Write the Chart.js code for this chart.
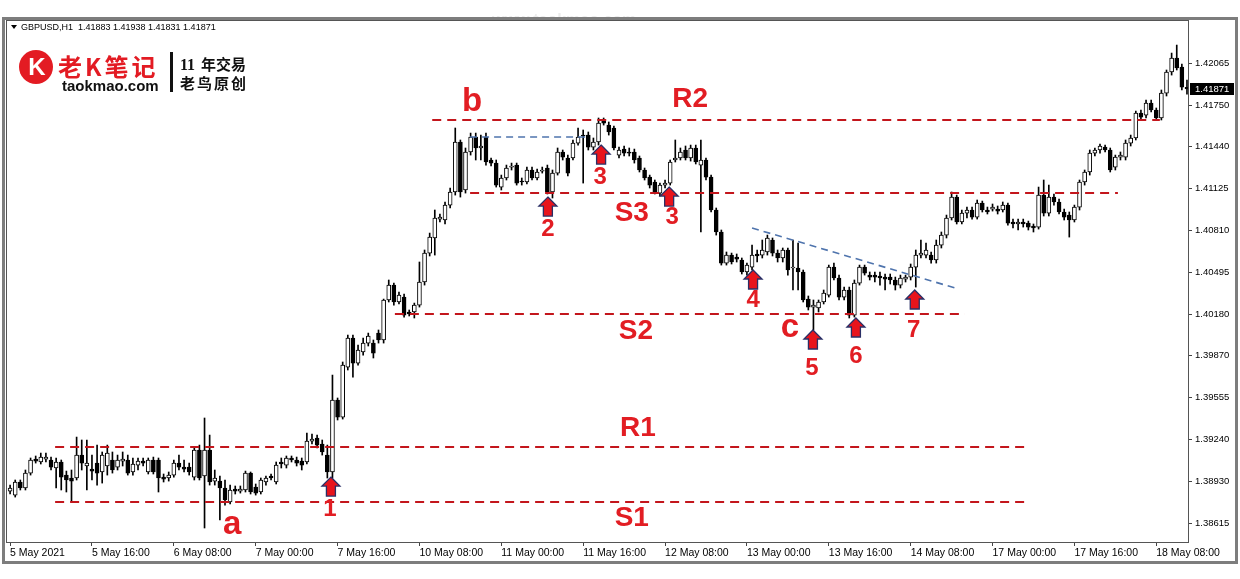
<!DOCTYPE html>
<html>
<head>
<meta charset="utf-8">
<script src="https://cdn.jsdelivr.net/npm/chart.js@4.4.1/dist/chart.umd.min.js"></script>
<style>
  html, body { margin: 0; padding: 0; background: #fff; }
  #wrap { width: 1240px; height: 579px; }
</style>
</head>
<body>
<div id="wrap"><canvas id="chart" width="1240" height="579"></canvas></div>
<script>
// GBPUSD H1, 5 May - 18 May 2021
const opens = [
  1.38855,1.38825,1.38923,1.38878,1.38990,1.39095,1.39073,1.39095,1.39088,1.39028,
  1.39073,1.38975,1.38953,1.38953,1.39125,1.39043,1.39020,1.39065,1.38998,1.39043,
  1.39088,1.39035,1.39080,1.39088,1.38998,1.39050,1.39080,1.38998,1.39088,1.39088,
  1.38960,1.38953,1.38975,1.39065,1.39035,1.39035,1.38960,1.39163,1.38968,1.39163,
  1.38930,1.38930,1.38878,1.38773,1.38870,1.38855,1.38863,1.38990,1.38885,1.38848,
  1.38923,1.38968,1.38923,1.39073,1.39050,1.39103,1.39088,1.39080,1.39073,1.39230,
  1.39253,1.39208,1.39125,1.38998,1.39538,1.39410,1.39785,1.40003,1.39815,1.39898,
  1.39965,1.39965,1.40040,1.39988,1.40288,1.40400,1.40273,1.40310,1.40198,1.40198,
  1.40250,1.40423,1.40640,1.40753,1.40895,1.40888,1.41000,1.41098,1.41473,1.41113,
  1.41398,1.41510,1.41428,1.41510,1.41338,1.41315,1.41135,1.41203,1.41285,1.41300,
  1.41180,1.41173,1.41263,1.41203,1.41255,1.41278,1.41098,1.41240,1.41398,1.41353,
  1.41353,1.41465,1.41525,1.41525,1.41435,1.41473,1.41638,1.41600,1.41578,1.41375,
  1.41420,1.41398,1.41398,1.41353,1.41263,1.41210,1.41173,1.41090,1.41150,1.41165,
  1.41338,1.41353,1.41413,1.41353,1.41428,1.41300,1.41338,1.41210,1.40963,1.40798,
  1.40565,1.40625,1.40610,1.40588,1.40498,1.40535,1.40633,1.40625,1.40648,1.40738,
  1.40640,1.40603,1.40663,1.40528,1.40528,1.40498,1.40295,1.40235,1.40228,1.40273,
  1.40325,1.40535,1.40453,1.40310,1.40363,1.40175,1.40415,1.40535,1.40475,1.40475,
  1.40468,1.40460,1.40460,1.40438,1.40400,1.40445,1.40460,1.40535,1.40625,1.40625,
  1.40625,1.40588,1.40700,1.40775,1.40903,1.41060,1.40873,1.40940,1.40963,1.40910,
  1.41015,1.40963,1.40970,1.40970,1.40963,1.41000,1.40873,1.40858,1.40873,1.40865,
  1.40843,1.40835,1.41075,1.40940,1.41060,1.41023,1.40948,1.40925,1.40888,1.40985,
  1.41173,1.41248,1.41390,1.41413,1.41435,1.41413,1.41285,1.41360,1.41360,1.41465,
  1.41503,1.41690,1.41675,1.41765,1.41713,1.41653,1.41840,1.41998,1.42103,1.42035,
  1.41883
];
const highs = [
  1.38900,1.38938,1.38938,1.39013,1.39103,1.39118,1.39140,1.39140,1.39110,1.39103,
  1.39088,1.39005,1.39013,1.39260,1.39238,1.39238,1.39125,1.39200,1.39148,1.39200,
  1.39148,1.39125,1.39148,1.39125,1.39103,1.39103,1.39103,1.39103,1.39110,1.39103,
  1.38983,1.38998,1.39088,1.39125,1.39088,1.39065,1.39178,1.39200,1.39403,1.39275,
  1.39013,1.38968,1.38938,1.38900,1.38893,1.38893,1.39005,1.38998,1.38908,1.38953,
  1.38968,1.38983,1.39073,1.39103,1.39118,1.39118,1.39110,1.39103,1.39290,1.39283,
  1.39275,1.39238,1.39200,1.39725,1.39553,1.39823,1.40025,1.40025,1.39950,1.40003,
  1.40040,1.39988,1.40063,1.40295,1.40438,1.40415,1.40348,1.40333,1.40213,1.40265,
  1.40573,1.40663,1.40790,1.40963,1.40933,1.41023,1.41128,1.41578,1.41488,1.41428,
  1.41540,1.41540,1.41525,1.41540,1.41353,1.41338,1.41225,1.41300,1.41315,1.41315,
  1.41203,1.41285,1.41285,1.41270,1.41285,1.41300,1.41263,1.41428,1.41413,1.41375,
  1.41488,1.41578,1.41563,1.41548,1.41503,1.41653,1.41653,1.41623,1.41593,1.41435,
  1.41443,1.41428,1.41420,1.41368,1.41278,1.41225,1.41188,1.41165,1.41188,1.41338,
  1.41488,1.41428,1.41443,1.41450,1.41450,1.41488,1.41353,1.41225,1.40978,1.40813,
  1.40648,1.40640,1.40633,1.40603,1.40565,1.40700,1.40663,1.40738,1.40775,1.40753,
  1.40663,1.40678,1.40678,1.40738,1.40715,1.40513,1.40318,1.40288,1.40288,1.40363,
  1.40550,1.40565,1.40475,1.40385,1.40385,1.40438,1.40550,1.40550,1.40498,1.40498,
  1.40498,1.40483,1.40483,1.40460,1.40475,1.40475,1.40558,1.40663,1.40738,1.40715,
  1.40648,1.40738,1.40798,1.40925,1.41098,1.41075,1.40963,1.40985,1.40985,1.41038,
  1.41030,1.40985,1.41008,1.40993,1.41023,1.41015,1.40895,1.40895,1.40895,1.40880,
  1.40858,1.41135,1.41188,1.41150,1.41083,1.41045,1.40970,1.40948,1.41000,1.41188,
  1.41263,1.41413,1.41428,1.41458,1.41450,1.41428,1.41375,1.41398,1.41488,1.41525,
  1.41705,1.41713,1.41788,1.41788,1.41728,1.41863,1.42013,1.42140,1.42200,1.42058,
  1.41938
];
const lows = [
  1.38833,1.38810,1.38863,1.38863,1.38975,1.39065,1.39058,1.39073,1.39013,1.38878,
  1.38863,1.38848,1.38773,1.38938,1.39013,1.38863,1.38938,1.38900,1.38915,1.38975,
  1.38990,1.39013,1.39043,1.38975,1.38975,1.39013,1.39043,1.38983,1.38983,1.38848,
  1.38923,1.38930,1.38960,1.39013,1.38998,1.38975,1.38938,1.38938,1.38578,1.38900,
  1.38900,1.38638,1.38750,1.38758,1.38833,1.38840,1.38848,1.38833,1.38825,1.38833,
  1.38900,1.38938,1.38908,1.39028,1.39028,1.39073,1.39043,1.39013,1.39058,1.39208,
  1.39178,1.39125,1.38953,1.38953,1.39388,1.39395,1.39763,1.39710,1.39800,1.39875,
  1.39943,1.39853,1.39965,1.39965,1.40273,1.40250,1.40258,1.40160,1.40168,1.40153,
  1.40235,1.40400,1.40618,1.40625,1.40873,1.40858,1.40978,1.41075,1.41060,1.41090,
  1.41375,1.41338,1.41338,1.41300,1.41293,1.41135,1.41113,1.41188,1.41263,1.41150,
  1.41150,1.41158,1.41188,1.41188,1.41240,1.41083,1.41053,1.41225,1.41338,1.41218,
  1.41338,1.41450,1.41165,1.41413,1.41413,1.41450,1.41600,1.41525,1.41413,1.41353,
  1.41368,1.41368,1.41315,1.41248,1.41188,1.41128,1.41083,1.41068,1.41128,1.41150,
  1.41323,1.41338,1.41338,1.41330,1.41308,1.40798,1.41188,1.40948,1.40775,1.40550,
  1.40550,1.40558,1.40573,1.40483,1.40475,1.40513,1.40573,1.40603,1.40625,1.40618,
  1.40573,1.40573,1.40475,1.40363,1.40363,1.40273,1.40213,1.40063,1.40198,1.40258,
  1.40310,1.40438,1.40288,1.40288,1.40153,1.40160,1.40400,1.40475,1.40438,1.40423,
  1.40400,1.40363,1.40408,1.40363,1.40378,1.40423,1.40438,1.40385,1.40603,1.40603,
  1.40565,1.40565,1.40678,1.40753,1.40888,1.40858,1.40858,1.40903,1.40895,1.40895,
  1.40948,1.40933,1.40955,1.40933,1.40948,1.40850,1.40828,1.40813,1.40835,1.40813,
  1.40798,1.40820,1.40918,1.40918,1.41000,1.40933,1.40888,1.40760,1.40873,1.40963,
  1.41150,1.41225,1.41368,1.41390,1.41398,1.41248,1.41263,1.41338,1.41338,1.41443,
  1.41488,1.41638,1.41653,1.41698,1.41638,1.41638,1.41818,1.41975,1.42013,1.41863,
  1.41831
];
const closes = [
  1.38878,1.38923,1.38878,1.38990,1.39088,1.39080,1.39110,1.39110,1.39035,1.39073,
  1.38960,1.38938,1.38930,1.39125,1.39065,1.39065,1.39005,1.38990,1.39125,1.39140,
  1.39013,1.39088,1.39095,1.38990,1.39058,1.39080,1.39065,1.39088,1.38998,1.38953,
  1.38945,1.38975,1.39065,1.39035,1.39020,1.38998,1.39163,1.38953,1.39163,1.38923,
  1.38953,1.38878,1.38788,1.38863,1.38855,1.38870,1.38990,1.38848,1.38840,1.38938,
  1.38953,1.38953,1.39050,1.39058,1.39103,1.39088,1.39065,1.39050,1.39230,1.39245,
  1.39200,1.39148,1.38998,1.39538,1.39410,1.39800,1.40003,1.39815,1.39913,1.39965,
  1.40018,1.39890,1.39988,1.40288,1.40400,1.40273,1.40325,1.40175,1.40183,1.40250,
  1.40423,1.40640,1.40760,1.40903,1.40910,1.41000,1.41098,1.41473,1.41098,1.41398,
  1.41510,1.41428,1.41443,1.41323,1.41315,1.41150,1.41203,1.41278,1.41293,1.41165,
  1.41173,1.41263,1.41203,1.41248,1.41263,1.41098,1.41240,1.41398,1.41360,1.41240,
  1.41465,1.41510,1.41518,1.41435,1.41473,1.41615,1.41615,1.41548,1.41428,1.41413,
  1.41390,1.41390,1.41338,1.41263,1.41203,1.41150,1.41098,1.41150,1.41165,1.41323,
  1.41353,1.41398,1.41353,1.41428,1.41323,1.41338,1.41210,1.40963,1.40798,1.40565,
  1.40625,1.40573,1.40595,1.40498,1.40550,1.40625,1.40618,1.40663,1.40753,1.40640,
  1.40603,1.40663,1.40513,1.40535,1.40498,1.40288,1.40235,1.40250,1.40273,1.40340,
  1.40535,1.40453,1.40310,1.40363,1.40175,1.40415,1.40535,1.40490,1.40460,1.40460,
  1.40453,1.40445,1.40438,1.40400,1.40453,1.40460,1.40535,1.40625,1.40640,1.40663,
  1.40588,1.40700,1.40775,1.40903,1.41060,1.40873,1.40940,1.40963,1.40910,1.41015,
  1.40963,1.40948,1.40985,1.40955,1.41000,1.40865,1.40858,1.40873,1.40858,1.40835,
  1.40828,1.41075,1.40940,1.41060,1.41023,1.40948,1.40910,1.40888,1.40985,1.41173,
  1.41248,1.41390,1.41413,1.41443,1.41413,1.41263,1.41360,1.41375,1.41465,1.41503,
  1.41690,1.41660,1.41765,1.41713,1.41653,1.41840,1.41998,1.42103,1.42028,1.41885,
  1.41871
];

// time axis: one label every 16 bars
const xTickBars = [0, 16, 32, 48, 64, 80, 96, 112, 128, 144, 160, 176, 192, 208, 224];
const xTickLabels = ['5 May 2021', '5 May 16:00', '6 May 08:00', '7 May 00:00', '7 May 16:00',
  '10 May 08:00', '11 May 00:00', '11 May 16:00', '12 May 08:00', '13 May 00:00',
  '13 May 16:00', '14 May 08:00', '17 May 00:00', '17 May 16:00', '18 May 08:00'];
const yTickValues = [1.38615, 1.38930, 1.39240, 1.39555, 1.39870, 1.40180,
  1.40495, 1.40810, 1.41125, 1.41440, 1.41750, 1.42065];
const priceMin = 1.38473;
const priceMax = 1.42388;
const lastPrice = 1.41871;

// support / resistance levels: R2, S3, S2, R1, S1
const levelPrices = [1.41638, 1.41090, 1.40183, 1.39185, 1.38773];
const levelFrom = [82.5, 89.9, 75.2, 8.8, 8.8];
const levelTo = [224.7, 216.5, 186.6, 198.7, 198.7];

// blue dashed lines: [fromBar, fromPrice, toBar, toPrice]
const blueLines = [
  [89.9, 1.41510, 113.3, 1.41510],
  [145.0, 1.40828, 184.7, 1.40378]
];

// red text marks
const noteTexts = ['b', 'R2', 'S3', 'S2', 'R1', 'S1', 'a', 'c', '1', '2', '3', '3', '4', '5', '6', '7'];
const noteBars = [90.3, 132.9, 121.5, 122.3, 122.7, 121.5, 43.4, 152.4, 62.5, 105.1, 115.3, 129.4, 145.2, 156.7, 165.3, 176.6];
const notePrices = [1.41773, 1.41795, 1.40940, 1.40055, 1.39328, 1.38653, 1.38600, 1.40078,
  1.38720, 1.40820, 1.41210, 1.40910, 1.40288, 1.39778, 1.39868, 1.40063];

// up arrows (tip position)
const arrowBars = [62.7, 105.1, 115.5, 128.8, 145.2, 156.9, 165.3, 176.8];
const arrowPrices = [1.38960, 1.41060, 1.41450, 1.41135, 1.40513, 1.40063, 1.40153, 1.40363];

const RED = '#e21d23';

function drawArrow(c, cx, ty) {
  c.beginPath();
  c.moveTo(cx, ty);
  c.lineTo(cx + 9, ty + 9);
  c.lineTo(cx + 4.5, ty + 9);
  c.lineTo(cx + 4.5, ty + 19);
  c.lineTo(cx - 4.5, ty + 19);
  c.lineTo(cx - 4.5, ty + 9);
  c.lineTo(cx - 9, ty + 9);
  c.closePath();
  c.fillStyle = '#e8141c';
  c.fill();
  c.strokeStyle = '#2a2f66';
  c.lineWidth = 1.3;
  c.stroke();
}

const overlay = {
  id: 'overlay',
  beforeDraw(chart) {
    const c = chart.ctx;
    c.save();
    c.fillStyle = '#fff';
    c.fillRect(0, 0, chart.width, chart.height);
    // site watermark, mostly hidden behind the frame
    c.beginPath();
    c.rect(0, 0, chart.width, 17);
    c.clip();
    c.fillStyle = '#ececec';
    c.font = 'bold 16px "Liberation Sans"';
    c.fillText('www.taokmao.com', 492, 25);
    c.restore();
  },
  afterDatasetsDraw(chart) {
    const { ctx: c, chartArea: a, scales: { x, y } } = chart;
    c.save();
    c.beginPath();
    c.rect(a.left, a.top, a.right - a.left, a.bottom - a.top);
    c.clip();

    c.strokeStyle = '#c3161c';
    c.lineWidth = 2;
    c.setLineDash([9, 6]);
    levelPrices.forEach((p, i) => {
      const py = Math.round(y.getPixelForValue(p));
      c.beginPath();
      c.moveTo(x.getPixelForValue(levelFrom[i]), py);
      c.lineTo(x.getPixelForValue(levelTo[i]), py);
      c.stroke();
    });

    c.strokeStyle = '#4f74ad';
    c.lineWidth = 1.6;
    c.setLineDash([7, 5]);
    blueLines.forEach(l => {
      c.beginPath();
      c.moveTo(x.getPixelForValue(l[0]), y.getPixelForValue(l[1]));
      c.lineTo(x.getPixelForValue(l[2]), y.getPixelForValue(l[3]));
      c.stroke();
    });
    c.setLineDash([]);

    arrowBars.forEach((b, i) => drawArrow(c, x.getPixelForValue(b), y.getPixelForValue(arrowPrices[i])));

    c.fillStyle = RED;
    c.textAlign = 'center';
    c.textBaseline = 'middle';
    noteTexts.forEach((t, i) => {
      let size = 24;
      if (/^[abc]$/.test(t)) size = 33;
      else if (/^[RS]/.test(t)) size = 28;
      c.font = 'bold ' + size + 'px "Liberation Sans", Arial, sans-serif';
      c.fillText(t, x.getPixelForValue(noteBars[i]), y.getPixelForValue(notePrices[i]));
    });
    c.restore();
  },
  afterDraw(chart) {
    const { ctx: c, chartArea: a, scales: { y } } = chart;
    c.save();
    // plot border and outer frame
    c.strokeStyle = '#555';
    c.lineWidth = 1;
    c.strokeRect(a.left + 0.5, a.top + 0.5, a.right - a.left, a.bottom - a.top);
    c.strokeStyle = '#7d7d7d';
    c.lineWidth = 3;
    c.strokeRect(3.5, 18.5, 1233, 544);

    // symbol header
    c.fillStyle = '#000';
    c.beginPath();
    c.moveTo(11, 25); c.lineTo(17, 25); c.lineTo(14, 29); c.closePath();
    c.fill();
    c.font = '9px "Liberation Sans", Arial, sans-serif';
    c.textBaseline = 'middle';
    c.fillText('GBPUSD,H1  1.41883 1.41938 1.41831 1.41871', 21, 27.5);

    // logo block
    c.fillStyle = '#e31b23';
    c.beginPath();
    c.arc(36, 67, 17, 0, Math.PI * 2);
    c.fill();
    c.fillStyle = '#fff';
    c.font = 'bold 24px "Liberation Sans", Arial, sans-serif';
    c.textAlign = 'center';
    c.fillText('K', 37, 68);
    c.textAlign = 'left';
    c.fillStyle = '#e31b23';
    c.font = 'bold 24px "Noto Sans CJK SC"';
    c.letterSpacing = '3px';
    c.textBaseline = 'alphabetic';
    c.fillText('老K笔记', 58, 76);
    c.letterSpacing = '0px';
    c.fillStyle = '#111';
    c.font = 'bold 15px "Liberation Sans", Arial, sans-serif';
    c.fillText('taokmao.com', 62, 91);
    c.fillRect(170, 52, 3, 40);
    c.font = 'bold 16px "Liberation Serif", serif';
    c.fillText('11', 180, 70);
    c.font = 'bold 15px "Noto Sans CJK SC"';
    c.fillText('年交易', 201, 70);
    c.letterSpacing = '2px';
    c.fillText('老鸟原创', 180, 89);
    c.letterSpacing = '0px';

    // last price marker on the price axis
    const py = Math.round(y.getPixelForValue(lastPrice));
    c.fillStyle = '#000';
    c.fillRect(a.right + 2, py - 6, 44, 12);
    c.fillStyle = '#fff';
    c.font = '9.5px "Liberation Sans", Arial, sans-serif';
    c.textBaseline = 'middle';
    c.fillText(lastPrice.toFixed(5), a.right + 7, py + 0.5);
    c.restore();
  }
};

const ctx = document.getElementById('chart').getContext('2d');
new Chart(ctx, {
  type: 'bar',
  data: {
    datasets: [
      {
        label: 'body',
        data: opens.map((o, i) => ({ x: i, y: [o, closes[i]] })),
        backgroundColor: opens.map((o, i) => closes[i] >= o ? '#ffffff' : '#000000'),
        borderColor: '#000',
        borderWidth: 1,
        borderSkipped: false,
        barThickness: 4,
        minBarLength: 1,
        grouped: false,
        order: 0
      },
      {
        label: 'wick',
        data: lows.map((l, i) => ({ x: i, y: [l, highs[i]] })),
        backgroundColor: '#000',
        borderWidth: 0,
        barThickness: 1,
        grouped: false,
        order: 1
      }
    ]
  },
  plugins: [overlay],
  options: {
    responsive: false,
    animation: false,
    devicePixelRatio: 1,
    layout: { padding: { left: 6, top: 20, right: 8, bottom: 16 } },
    plugins: { legend: { display: false }, tooltip: { enabled: false } },
    scales: {
      x: {
        type: 'linear',
        min: -0.8,
        max: 230.2,
        offset: false,
        grid: { display: true, drawOnChartArea: false, offset: false, tickLength: 4, color: '#444' },
        border: { display: false },
        afterBuildTicks: s => { s.ticks = xTickBars.map(v => ({ value: v })); },
        afterFit: s => { s.height = 21; },
        ticks: {
          autoSkip: false,
          maxRotation: 0,
          align: 'start',
          padding: 1,
          color: '#000',
          font: { family: 'Liberation Sans', size: 10.5 },
          callback: (v, i) => xTickLabels[i]
        }
      },
      y: {
        position: 'right',
        min: priceMin,
        max: priceMax,
        grid: { display: true, drawOnChartArea: false, tickLength: 4, color: '#444' },
        border: { display: false },
        afterBuildTicks: s => { s.ticks = yTickValues.map(v => ({ value: v })); },
        afterFit: s => { s.width = 44; },
        ticks: {
          crossAlign: 'near',
          padding: 3,
          color: '#000',
          font: { family: 'Liberation Sans', size: 9.5 },
          callback: v => v.toFixed(5)
        }
      }
    }
  }
});
</script>
</body>
</html>
